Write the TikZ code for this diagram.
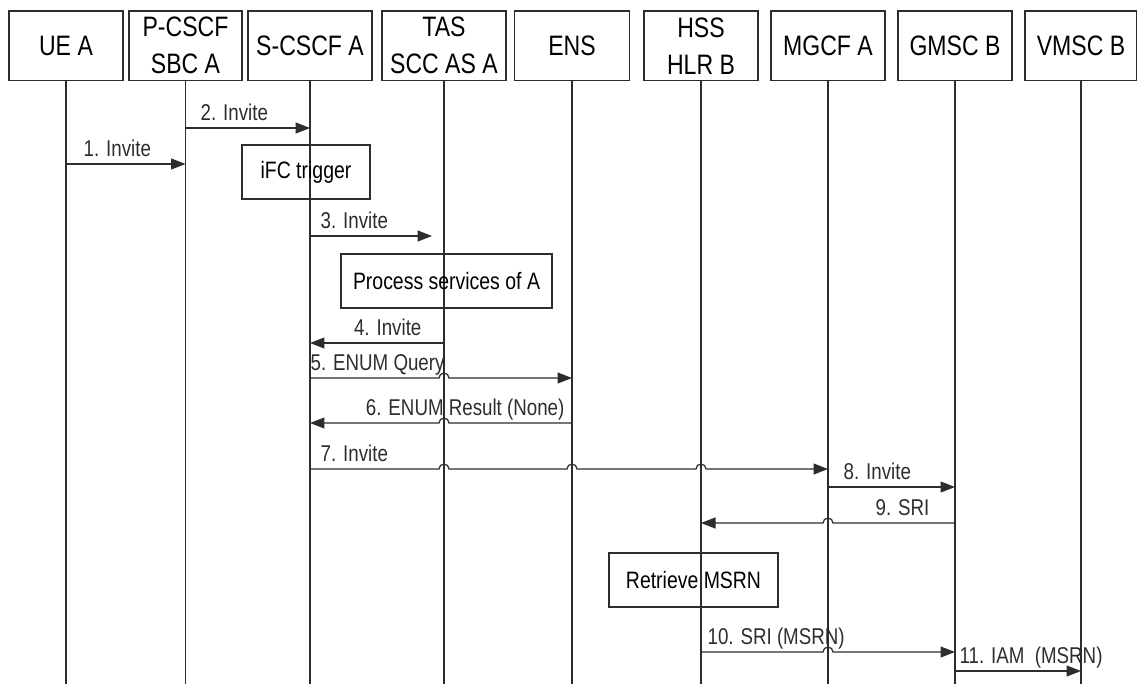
\documentclass[tikz,border=0pt]{standalone}
\usepackage{fontspec}
\setmainfont{Liberation Sans}[FakeStretch=0.82]
\usetikzlibrary{arrows.meta,positioning,calc}
\definecolor{ink}{RGB}{45,45,45}
\tikzset{
  ent/.style={draw=ink,line width=0.9pt,align=center,minimum width=2.27cm,minimum height=1.39cm,inner sep=1pt,font=\fontsize{16}{21}\selectfont},
  act/.style={draw=ink,line width=0.8pt,align=center,inner sep=0pt,minimum height=1.08cm,font=\fontsize{13.5}{16}\selectfont},
  life/.style={draw=ink,line width=0.6pt},
  msg/.style={draw=ink,line width=0.7pt,-{Triangle[length=2.9mm,width=2.2mm]}},
  lr/.style={anchor=base west,inner sep=0pt,yshift=0.16cm,text=ink,font=\fontsize{13}{15}\selectfont},
  ll/.style={anchor=base east,inner sep=0pt,yshift=0.16cm,text=ink,font=\fontsize{13}{15}\selectfont}
}
\newcommand\hopr[2]{-- ($(#1|-0,#2)+(-5,0)$) arc[start angle=180,end angle=0,radius=0.1cm]}
\newcommand\hopl[2]{-- ($(#1|-0,#2)+(5,0)$) arc[start angle=0,end angle=180,radius=0.1cm]}
\begin{document}
\begin{tikzpicture}[x=0.02cm,y=0.02cm]
\useasboundingbox (0,0) rectangle (1137,-684);
\node[ent,minimum width=2.28cm] (ue) at (66,-45.75) {UE A};
\node[ent,minimum width=2.26cm] (pcscf) at (185.5,-45.75) {P-CSCF\\SBC A};
\node[ent,minimum width=2.48cm] (scscf) at (310,-45.75) {S-CSCF A};
\node[ent,minimum width=2.48cm] (tas) at (444,-45.75) {TAS\\SCC AS A};
\node[ent,minimum width=2.3cm] (ens) at (572,-45.75) {ENS};
\node[ent] (hss) at (701,-45.75) {HSS\\HLR B};
\node[ent] (mgcf) at (828,-45.75) {MGCF A};
\node[ent] (gmsc) at (955,-45.75) {GMSC B};
\node[ent,minimum width=2.24cm] (vmsc) at (1081,-45.75) {VMSC B};
\foreach \n in {ue,pcscf,scscf,tas,ens,hss,mgcf,gmsc,vmsc}
  \draw[life] (\n.south) -- (\n.south |- 0,-684);
\node[act,minimum width=2.56cm] (ifc) at (306,-172) {iFC trigger};
\node[act,minimum width=4.22cm] (proc) at (446.5,-281) {Process services of A};
\node[act,minimum width=3.38cm] (msrn) at (693.5,-580) {Retrieve MSRN};
\draw[msg] (ue|-0,-164) node[lr,xshift=0.34cm] (l1) {1. Invite} -- (pcscf|-0,-164);
\draw[msg] (pcscf|-0,-128) node[lr,xshift=0.29cm] (l2) {2. Invite} -- (scscf|-0,-128);
\draw[msg] (scscf|-0,-236) node[lr,xshift=0.2cm] (l3) {3. Invite} -- ($(tas|-0,-236)+(-12,0)$);
\draw[msg] (tas|-0,-343) node[ll,xshift=-0.44cm] (l4) {4. Invite} -- (scscf|-0,-343);
\draw[msg] (scscf|-0,-378) node[lr] (l5) {5. ENUM Query} \hopr{tas}{-378} -- (ens|-0,-378);
\draw[msg] (ens|-0,-423) node[ll,xshift=-0.14cm] (l6) {6. ENUM Result (None)} \hopl{tas}{-423} -- (scscf|-0,-423);
\draw[msg] (scscf|-0,-469) node[lr,xshift=0.2cm] (l7) {7. Invite} \hopr{tas}{-469} \hopr{ens}{-469} \hopr{hss}{-469} -- (mgcf|-0,-469);
\draw[msg] (mgcf|-0,-487) node[lr,xshift=0.3cm] (l8) {8. Invite} -- (gmsc|-0,-487);
\draw[msg] (gmsc|-0,-523) node[ll,xshift=-0.5cm] (l9) {9. SRI} \hopl{mgcf}{-523} -- (hss|-0,-523);
\draw[msg] (hss|-0,-652) node[lr,xshift=0.12cm] (l10) {10. SRI (MSRN)} \hopr{mgcf}{-652} -- (gmsc|-0,-652);
\draw[msg] (gmsc|-0,-671) node[lr,xshift=0.08cm] (l11) {11. IAM\ \ (MSRN)} -- (vmsc|-0,-671);
\end{tikzpicture}
\end{document}
